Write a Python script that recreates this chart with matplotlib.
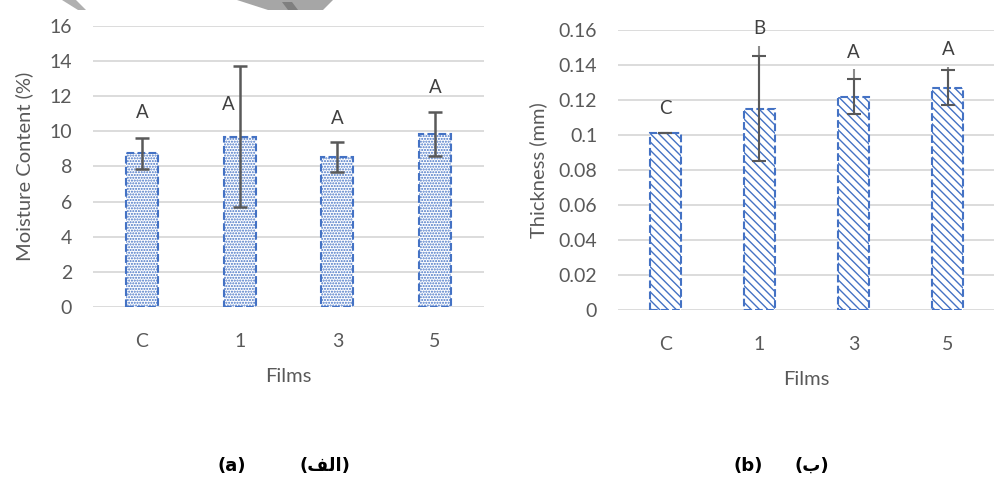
import matplotlib
matplotlib.use("Agg")
import matplotlib.pyplot as plt
from matplotlib.patches import Polygon

plt.rcParams['font.family'] = ['Lato', 'DejaVu Sans']
plt.rcParams['hatch.color'] = '#4472C4'
plt.rcParams['hatch.linewidth'] = 1.0

# Data
films = ["C", "1", "3", "5"]

moisture = [8.75, 9.7, 8.55, 9.85]
moisture_err = [0.9, 4.0, 0.85, 1.25]
moisture_letters = ["A", "A", "A", "A"]
moisture_letter_y = [11.1, 11.55, 10.75, 12.5]
moisture_letter_dx = [0.0, -0.12, 0.0, 0.0]

thickness = [0.101, 0.115, 0.122, 0.127]
thickness_err = [0.0, 0.030, 0.010, 0.010]
thickness_line_top = [0.101, 0.151, 0.138, 0.139]
thickness_letters = ["C", "B", "A", "A"]
thickness_letter_y = [0.1154, 0.1606, 0.1474, 0.149]

moist_ticks = [0, 2, 4, 6, 8, 10, 12, 14, 16]
thick_ticks = [0, 0.02, 0.04, 0.06, 0.08, 0.1, 0.12, 0.14, 0.16]
thick_ticklabels = ["0", "0.02", "0.04", "0.06", "0.08", "0.1", "0.12", "0.14", "0.16"]

blue = '#4472C4'
grey_txt = '#595959'
err_col = '#595959'
grid_col = '#D9D9D9'

fig = plt.figure(figsize=(9.95, 4.84), dpi=100)

def style_axes(ax, yticks, ylabels, ylim):
    for s in ax.spines.values():
        s.set_visible(False)
    ax.set_ylim(*ylim)
    ax.set_xlim(-0.5, 3.5)
    ax.set_yticks(yticks)
    ax.set_yticklabels(ylabels)
    ax.yaxis.grid(True, color=grid_col, linewidth=1.3)
    ax.set_axisbelow(True)
    ax.tick_params(axis='both', length=0, labelsize=14, colors=grey_txt)
    ax.tick_params(axis='y', pad=15)
    ax.tick_params(axis='x', pad=19)
    ax.set_xticks(range(len(films)))
    ax.set_xticklabels(films)
    ax.set_xlabel("Films", fontsize=14.5, color=grey_txt, labelpad=13)

# (a) moisture content
ax1 = fig.add_axes([0.0935, 0.3657, 0.3929, 0.5806])
x = range(len(films))
ax1.bar(x, moisture, width=0.33, color='white', edgecolor=blue, hatch='......',
        linestyle='--', linewidth=1.5)
ax1.errorbar(x, moisture, yerr=moisture_err, fmt='none', ecolor=err_col,
             elinewidth=1.8, capsize=5, capthick=1.8)
for i, t in enumerate(moisture_letters):
    ax1.text(i + moisture_letter_dx[i], moisture_letter_y[i], t, ha='center', va='center',
             fontsize=13.5, color='#404040')
style_axes(ax1, moist_ticks, [str(v) for v in moist_ticks], (0, 16))
ax1.set_ylabel("Moisture Content (%)", fontsize=14.5, color=grey_txt, labelpad=12)

# (b) thickness
ax2 = fig.add_axes([0.6211, 0.3595, 0.3789, 0.5785])
ax2.bar(x, thickness, width=0.33, color='white', edgecolor=blue, hatch='\\\\\\\\',
        linestyle='--', linewidth=1.5)
up = [top - t for top, t in zip(thickness_line_top, thickness)]
ax2.errorbar(x, thickness, yerr=[[0] * 4, up], fmt='none', ecolor='#8C8C8C',
             elinewidth=1.5, capsize=0)
ax2.errorbar(x, thickness, yerr=thickness_err, fmt='none', ecolor=err_col,
             elinewidth=1.5, capsize=5, capthick=1.5)
for i, t in enumerate(thickness_letters):
    ax2.text(i, thickness_letter_y[i], t, ha='center', va='center',
             fontsize=13.5, color='#404040')
style_axes(ax2, thick_ticks, thick_ticklabels, (0, 0.16))
ax2.set_ylabel("Thickness (mm)", fontsize=14.5, color=grey_txt, labelpad=8)

# panel labels
lab_kw = dict(ha='center', va='center', fontsize=13, fontweight='bold',
              family=['DejaVu Sans'])
fig.text(232 / 995, 1 - 466 / 484, "(a)", **lab_kw)
fig.text(325 / 995, 1 - 466 / 484, "(\uFED2\uFEDF\uFE8D)", **lab_kw)
fig.text(748 / 995, 1 - 466 / 484, "(b)", **lab_kw)
fig.text(812 / 995, 1 - 466 / 484, "(\uFE8F)", **lab_kw)

# faint watermark remnants at the top edge
W, H = 995, 484
wm1 = [(62, 0), (76, 0), (86, 10), (78, 10)]
wm2 = [(237, 0), (333, 0), (323, 10), (268, 10)]
wm3 = [(282, 2), (292, 2), (298, 10), (288, 10)]
for pts, col in [(wm1, '#B0B0B0'), (wm2, '#A6A6A6'), (wm3, '#7F7F7F')]:
    fig.patches.append(Polygon([(px / W, 1 - py / H) for px, py in pts], closed=True,
                               transform=fig.transFigure, facecolor=col, edgecolor='none'))

fig.savefig("out.png", dpi=100)
